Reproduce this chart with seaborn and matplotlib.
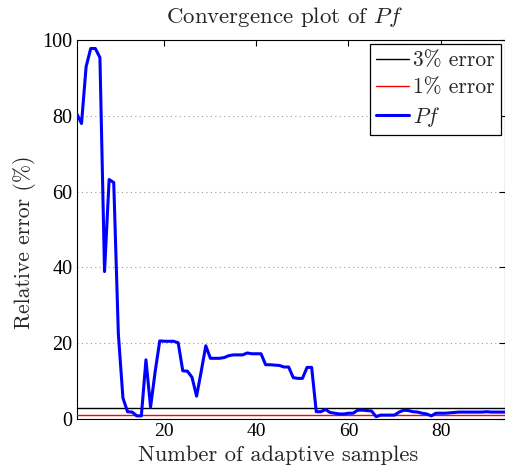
import numpy as np
import pandas as pd
import matplotlib
matplotlib.use("Agg")
import matplotlib.pyplot as plt
import seaborn as sns

samples = list(range(1, 95))
pf_error = [80.5, 78, 93, 97.8, 97.8, 95.4, 38.9, 63.2, 62.4, 22.5,
            5.5, 1.9, 1.8, 0.8, 0.8, 15.6, 3.1, 12.5, 20.6, 20.5,
            20.5, 20.5, 20.1, 12.7, 12.6, 11.0, 6.0, 12.5, 19.3, 16.0,
            16.0, 16.0, 16.2, 16.7, 16.9, 16.9, 16.9, 17.4, 17.2, 17.2,
            17.2, 14.3, 14.3, 14.2, 14.1, 13.7, 13.7, 10.9, 10.7, 10.7,
            13.6, 13.6, 1.9, 1.9, 2.5, 1.7, 1.5, 1.3, 1.3, 1.5,
            1.5, 2.3, 2.3, 2.2, 2.1, 0.6, 1.0, 1.0, 1.0, 1.0,
            1.8, 2.3, 2.2, 1.9, 1.8, 1.5, 1.3, 0.8, 1.5, 1.5,
            1.5, 1.6, 1.7, 1.8, 1.8, 1.8, 1.8, 1.8, 1.8, 1.9,
            1.8, 1.8, 1.8, 1.8]
thresholds = [3, 1]
threshold_labels = ["3% error", "1% error"]
threshold_colors = ["#000000", "#ff0000"]

sns.set_style("white")
plt.rcParams["font.family"] = ["cmr10", "DejaVu Serif"]
plt.rcParams["mathtext.fontset"] = "cm"
plt.rcParams["axes.formatter.use_mathtext"] = True

fig = plt.figure(figsize=(5.06, 4.67), dpi=100)
ax = fig.add_axes([0.152, 0.103, 0.846, 0.811])

for t, lab, c in zip(thresholds, threshold_labels, threshold_colors):
    ax.axhline(t, color=c, lw=1.0, label=lab, zorder=3)

df = pd.DataFrame({"samples": samples, "error": pf_error})
sns.lineplot(data=df, x="samples", y="error", ax=ax, color="#0000ff", lw=2.2,
             label=r"$Pf$", zorder=4)

ax.set_xlim(1, 94)
ax.set_ylim(0, 100)
ax.set_xticks([20, 40, 60, 80])
ax.set_yticks([0, 20, 40, 60, 80, 100])
ax.set_xticklabels(["20", "40", "60", "80"], family="Liberation Serif", fontsize=14)
ax.set_yticklabels(["0", "20", "40", "60", "80", "100"], family="Liberation Serif", fontsize=14.5)
ax.yaxis.grid(True, linestyle=(0, (1, 3)), color="#999999", lw=0.8)
ax.xaxis.grid(False)
ax.tick_params(direction="in", top=True, right=True, length=4, width=0.8,
               colors="black", pad=3)
ax.tick_params(axis="x", pad=3)
for s in ax.spines.values():
    s.set_visible(True)
    s.set_color("black")
    s.set_linewidth(0.8)

ax.set_title(r"Convergence plot of $Pf$", fontsize=16.5, pad=12, x=0.485)
ax.set_xlabel("Number of adaptive samples", fontsize=16.2)
ax.xaxis.set_label_coords(0.471, -0.069)
ax.set_ylabel("Relative error (%)", fontsize=15.6)
ax.yaxis.set_label_coords(-0.095, 0.467)

leg = ax.legend(loc="upper right", fontsize=15.5, frameon=True, fancybox=False,
                edgecolor="black", framealpha=1, handlelength=1.55,
                borderaxespad=0.2, labelspacing=0.35, handletextpad=0.15,
                borderpad=0.3)
leg.get_frame().set_linewidth(0.9)

fig.savefig("out.png", dpi=100)
